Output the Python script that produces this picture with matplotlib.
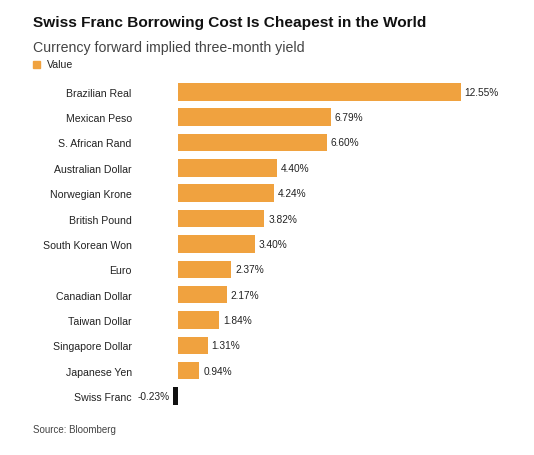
import matplotlib
matplotlib.use("Agg")
import matplotlib.pyplot as plt
from matplotlib.patches import Rectangle

categories = ["Brazilian Real", "Mexican Peso", "S. African Rand", "Australian Dollar",
              "Norwegian Krone", "British Pound", "South Korean Won", "Euro",
              "Canadian Dollar", "Taiwan Dollar", "Singapore Dollar", "Japanese Yen",
              "Swiss Franc"]
values = [12.55, 6.79, 6.60, 4.40, 4.24, 3.82, 3.40, 2.37, 2.17, 1.84, 1.31, 0.94, -0.23]
value_labels = ["12.55%", "6.79%", "6.60%", "4.40%", "4.24%", "3.82%", "3.40%", "2.37%",
                "2.17%", "1.84%", "1.31%", "0.94%", "-0.23%"]

plt.rcParams['font.family'] = ['Liberation Sans', 'DejaVu Sans']

W, H = 534, 456
fig = plt.figure(figsize=(W / 100, H / 100), dpi=100)
fig.patch.set_facecolor("white")

# axes placement in pixels
px_left, px_right = 140, 520
zero_px = 178
scale = 22.53
top_px, bot_px = 80.1, 409.7
ax = fig.add_axes([px_left / W, 1 - bot_px / H, (px_right - px_left) / W, (bot_px - top_px) / H])
ax.set_xlim((px_left - zero_px) / scale, (px_right - zero_px) / scale)

orange = "#F0A23F"
colors = [orange if v >= 0 else "#111111" for v in values]
ys = list(range(len(categories)))
ax.barh(ys, values, height=0.69, color=colors)
ax.set_ylim(len(categories) - 0.5, -0.5)
ax.set_yticks(ys)
ax.set_yticklabels(categories, fontsize=7.6, color="#222222")
ax.tick_params(axis="y", length=0, pad=6)
ax.set_xticks([])
for s in ax.spines.values():
    s.set_visible(False)

for y, v, lab in zip(ys, values, value_labels):
    if v >= 0:
        ax.annotate(lab, (v, y), xytext=(4, 0), textcoords="offset pixels",
                    ha="left", va="center", fontsize=7.3, color="#222222")
    else:
        ax.annotate(lab, (v, y), xytext=(-3, 0), textcoords="offset pixels",
                    ha="right", va="center", fontsize=7.3, color="#222222")

fig.text(33 / W, 1 - 23 / H, "Swiss Franc Borrowing Cost Is Cheapest in the World",
         fontsize=11.1, fontweight="bold", color="#111111", ha="left", va="center")
fig.text(33 / W, 1 - 48 / H, "Currency forward implied three-month yield",
         fontsize=10.2, color="#444444", ha="left", va="center")
fig.patches.append(Rectangle((33 / W, 1 - 68.5 / H), 7 / W, 7 / H, transform=fig.transFigure,
                             color=orange))
fig.text(47 / W, 1 - 65 / H, "Value", fontsize=7.6, color="#222222", ha="left", va="center")
fig.text(33 / W, 1 - 430 / H, "Source: Bloomberg", fontsize=7.0, color="#444444",
         ha="left", va="center")

fig.savefig("out.png", dpi=100, facecolor="white")
